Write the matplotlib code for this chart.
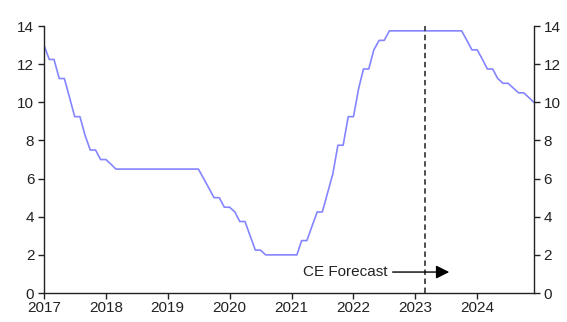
import matplotlib
matplotlib.use("Agg")
import matplotlib.pyplot as plt
import matplotlib.dates as mdates
import pandas as pd

plt.rcParams["font.family"] = ["Liberation Sans", "DejaVu Sans"]

# Policy rate, month starts Jan 2017 - Dec 2024 (forecast from Mar 2023)
start_month = "2017-01-01"
rate = [
    13.0, 12.25, 12.25, 11.25, 11.25, 10.25, 9.25, 9.25, 8.25, 7.5, 7.5, 7.0,
    7.0, 6.75, 6.5, 6.5, 6.5, 6.5, 6.5, 6.5, 6.5, 6.5, 6.5, 6.5,
    6.5, 6.5, 6.5, 6.5, 6.5, 6.5, 6.5, 6.0, 5.5, 5.0, 5.0, 4.5,
    4.5, 4.25, 3.75, 3.75, 3.0, 2.25, 2.25, 2.0, 2.0, 2.0, 2.0, 2.0,
    2.0, 2.0, 2.75, 2.75, 3.5, 4.25, 4.25, 5.25, 6.25, 7.75, 7.75, 9.25,
    9.25, 10.75, 11.75, 11.75, 12.75, 13.25, 13.25, 13.75, 13.75, 13.75, 13.75, 13.75,
    13.75, 13.75, 13.75, 13.75, 13.75, 13.75, 13.75, 13.75, 13.75, 13.75, 13.25, 12.75,
    12.75, 12.25, 11.75, 11.75, 11.25, 11.0, 11.0, 10.75, 10.5, 10.5, 10.25, 10.0,
]
forecast_start = "2023-03-01"
year_ticks = [2017, 2018, 2019, 2020, 2021, 2022, 2023, 2024]
y_ticks = [0, 2, 4, 6, 8, 10, 12, 14]

dates = pd.date_range(start_month, periods=len(rate), freq="MS")

fig = plt.figure(figsize=(5.67, 3.22), dpi=100)
ax = fig.add_axes([0.0776, 0.090, 0.8642, 0.829])

ax.plot(dates, rate, color="#8585ff", lw=1.2)

# forecast marker
ax.axvline(pd.Timestamp(forecast_start), color="#404040", lw=1.3, ls=(0, (3, 2)))
ax.annotate("", xy=(pd.Timestamp("2023-07-20"), 1.1),
            xytext=(pd.Timestamp("2022-08-20"), 1.1),
            arrowprops=dict(arrowstyle="-|>", color="black", lw=1,
                            mutation_scale=20, shrinkA=0, shrinkB=0))
ax.text(pd.Timestamp("2022-07-20"), 1.1, "CE Forecast", ha="right", va="center",
        fontsize=11, color="#222222")

ax.set_xlim(dates[0], dates[-1])
ax.set_ylim(0, 14)
ax.set_xticks([pd.Timestamp(f"{y}-01-01") for y in year_ticks])
ax.xaxis.set_major_formatter(mdates.DateFormatter("%Y"))
ax.set_yticks(y_ticks)

ax.spines["top"].set_visible(False)
for s in ["left", "right", "bottom"]:
    ax.spines[s].set_color("#222222")
    ax.spines[s].set_linewidth(1)

ax.tick_params(axis="both", direction="out", length=4, width=1, color="#222222",
               labelsize=11, labelcolor="#222222")
ax.tick_params(axis="y", right=True, labelright=True, pad=3)
ax.tick_params(axis="x", pad=2)

fig.savefig("out.png", dpi=100)
